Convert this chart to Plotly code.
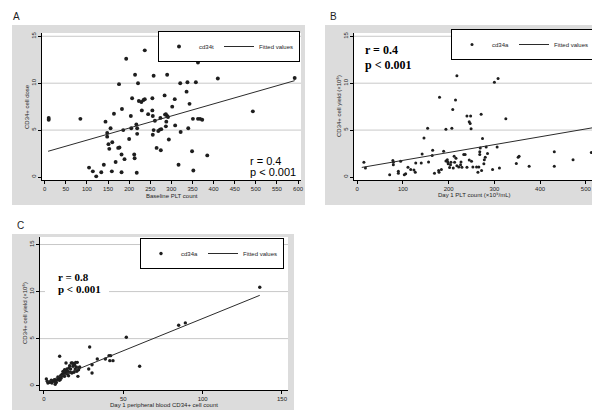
import plotly.graph_objects as go

W, H = 600, 410

# ---------------- data ----------------
# Panel A: Baseline PLT count vs CD34+ cell dose
a_plt = [9.5, 9.5, 84.5, 105, 114, 122, 134, 140, 144, 148, 148, 151, 153, 156, 160, 159, 164, 168,
         174, 177, 176, 182, 183, 186, 182, 189, 193, 200, 204, 205, 207, 212, 213, 214, 217, 219,
         219, 218, 221, 223, 229, 230, 234, 237, 237, 245, 255, 255, 256, 258, 256, 258, 261, 265,
         269, 273, 276, 274, 275, 284, 285, 287, 290, 288, 287, 290, 292, 294, 302, 308, 309, 317,
         321, 322, 336, 338, 340, 343, 349, 351, 352, 358, 363, 363, 368, 373, 385, 410, 493, 592]
a_cd34 = [6.3, 6.1, 6.2, 1.0, 0.6, 0.07, 0.5, 1.3, 5.9, 4.7, 4.3, 3.5, 3.0, 5.2, 3.7, 0.6, 6.75, 1.6,
          3.1, 3.15, 9.9, 2.4, 7.25, 5.0, 0.5, 1.9, 12.6, 4.05, 6.5, 5.2, 8.4, 2.4, 2.0, 10.9, 5.6, 5.2,
          4.6, 0.46, 10.0, 8.1, 8.0, 7.1, 8.2, 8.3, 13.5, 6.7, 8.4, 7.1, 6.5, 5.0, 4.5, 10.8, 6.0, 3.1,
          4.9, 5.05, 5.1, 6.3, 2.85, 8.7, 6.65, 6.7, 6.5, 5.9, 5.4, 10.9, 6.4, 4.0, 7.5, 8.3, 5.5, 1.3,
          10.0, 4.8, 9.1, 10.1, 5.2, 7.8, 2.75, 6.2, 0.7, 10.1, 12.2, 6.2, 6.2, 6.1, 2.3, 10.5, 7.0, 10.55]
a_fit_x = [8, 592]
a_fit_y = [2.74, 10.27]

# Panel B: Day 1 PLT count vs CD34+ cell yield
b_plt = [14.6, 18, 71, 78, 79, 79, 90, 90, 95, 103, 106, 111, 117, 124, 127, 128, 140, 142, 146, 154,
         156, 164, 165, 169, 178, 179, 180, 184, 189, 194, 194, 197, 198, 199, 202, 204, 205, 207, 209,
         210, 212, 213, 215, 216, 218, 218, 222, 226, 227, 229, 233, 236, 240, 240, 245, 245, 247, 247,
         248, 249, 250, 253, 261, 264, 266, 268, 268, 269, 271, 272, 274, 277, 278, 280, 282, 285, 296,
         300, 306, 308, 311, 325, 348, 352, 354, 376, 431, 431, 472, 512]
b_cd34 = [1.56, 0.96, 0.25, 1.75, 1.56, 1.3, 0.4, 0.6, 1.67, 0.25, 0.35, 1.03, 0.8, 0.75, 0.5, 1.5, 1.5,
          2.45, 4.15, 5.2, 1.6, 2.3, 2.85, 0.4, 0.7, 0.5, 8.5, 0.8, 2.75, 5.1, 1.7, 1.85, 1.6, 1.4, 1.0,
          1.3, 1.56, 5.2, 7.2, 0.96, 2.2, 1.56, 8.2, 2.0, 10.8, 1.2, 1.07, 1.3, 1.6, 1.03, 2.4, 2.4, 6.5,
          1.03, 5.9, 1.8, 13.5, 5.7, 6.5, 5.15, 1.67, 1.07, 1.07, 0.5, 1.07, 2.4, 2.7, 3.1, 6.7, 0.68,
          4.1, 1.4, 1.85, 2.1, 3.2, 2.5, 0.8, 10.1, 3.2, 10.5, 0.96, 6.2, 1.45, 2.1, 2.2, 1.14, 2.7,
          1.14, 1.85, 2.6]
b_fit_x = [10, 515]
b_fit_y = [1.02, 5.25]

# Panel C: Day 1 peripheral blood CD34+ count vs CD34+ cell yield
c_pb = [1.5, 2.1, 2.5, 3.6, 4.6, 5.0, 5.5, 6.3, 6.7, 7.1, 7.4, 7.8, 8.4, 8.8, 9.2, 9.7, 9.9, 10.2, 10.5,
        10.9, 11.3, 11.6, 12.0, 12.3, 12.6, 13.0, 13.0, 13.4, 13.9, 14.1, 14.5, 14.7, 15.1, 15.5, 15.8,
        16.2, 16.4, 16.8, 17.2, 17.6, 17.9, 18.3, 18.7, 18.9, 19.3, 19.7, 20.0, 20.4, 20.7, 21.0, 21.4,
        21.8, 22.0, 22.5, 28.2, 28.8, 30.3, 30.3, 33.6, 38.7, 41.0, 42.0, 41.5, 43.5, 51.9, 60.3, 84.9,
        89.1, 136.0]
c_cd34 = [0.71, 0.46, 0.28, 0.35, 0.57, 0.28, 0.53, 0.46, 0.64, 0.14, 0.39, 0.35, 0.64, 0.92, 0.82, 0.57,
          3.12, 0.64, 1.06, 0.82, 1.17, 1.24, 1.52, 1.06, 1.35, 1.70, 0.99, 1.35, 2.41, 1.52, 1.77, 1.24,
          1.52, 1.06, 1.88, 2.13, 1.42, 1.77, 2.41, 1.35, 2.41, 2.06, 2.34, 1.42, 2.23, 1.77, 2.48, 1.99,
          1.52, 2.48, 0.99, 1.70, 1.88, 1.99, 1.77, 4.11, 1.35, 2.23, 2.84, 2.84, 3.19, 3.19, 2.66, 2.66,
          5.14, 2.06, 6.42, 6.67, 10.46]
c_fit_x = [1.5, 136]
c_fit_y = [0.39, 9.6]

y_ticks = [0, 5, 10, 15]
grid_vals = [5, 10, 15]
a_xticks = [0, 50, 100, 150, 200, 250, 300, 350, 400, 450, 500, 550, 600]
b_xticks = [0, 100, 200, 300, 400, 500]
c_xticks = [0, 50, 100, 150]

# ---------------- layout helpers ----------------
def fx(p):
    return p / W

def fy(p):
    return 1 - p / H

SANS = "Liberation Sans"
SERIF = "Liberation Serif"
INK = "#1e1e1e"
GRAY_BG = "#dcdcdc"

panels = [
    dict(key="", plot=(34, 293, 25, 172), box=(4, 297, 17, 197), xr=[-6.4, 607], yr=[-0.32, 15.35],
         xt=a_xticks, xtitle="Baseline PLT count", ytitle="CD34+ cell dose",
         xtpos=(163.5, 188), ytpos=(18.5, 98.5),
         x=a_plt, y=a_cd34, fx=a_fit_x, fy=a_fit_y, name="cd34t", msize=3.9, legend="legend",
         leg=(292, 23)),
    dict(key="2", plot=(346, 587, 25, 172), box=(317, 597, 17, 197), xr=[-7, 520], yr=[-0.32, 15.35],
         xt=b_xticks, xtitle="Day 1 PLT count (×10⁹/mL)",
         ytitle="CD34+ cell yield (×10⁸)",
         xtpos=(466.5, 187), ytpos=(330.5, 98.5),
         x=b_plt, y=b_cd34, fx=b_fit_x, fy=b_fit_y, name="cd34a", msize=3.0, legend="legend2",
         leg=(587, 21)),
    dict(key="3", plot=(32, 280, 229, 382), box=(4, 286, 226, 405), xr=[-2.5, 153.8], yr=[-0.46, 15.8],
         xt=c_xticks, xtitle="Day 1 peripheral blood CD34+ cell count",
         ytitle="CD34+ cell yield (×10⁸)",
         xtpos=(156, 396.5), ytpos=(16.5, 305.5),
         x=c_pb, y=c_cd34, fx=c_fit_x, fy=c_fit_y, name="cd34a", msize=3.4, legend="legend3",
         leg=(276, 230)),
]

fig = go.Figure()
shapes = []
annotations = []
layout = dict(
    width=W, height=H, margin=dict(l=0, r=0, t=0, b=0),
    paper_bgcolor="white", plot_bgcolor="white",
    font=dict(family=SANS, size=6, color=INK),
)

for p in panels:
    k = p["key"]
    xa, ya = "x" + k, "y" + k
    l, r, t, b = p["plot"]
    fig.add_trace(go.Scatter(
        x=p["x"], y=p["y"], mode="markers", name=p["name"],
        marker=dict(size=p["msize"], color=INK, line=dict(width=0)),
        xaxis=xa, yaxis=ya, legend=p["legend"], hoverinfo="skip"))
    fig.add_trace(go.Scatter(
        x=p["fx"], y=p["fy"], mode="lines", name="Fitted values",
        line=dict(color="#2b2b2b", width=1),
        xaxis=xa, yaxis=ya, legend=p["legend"], hoverinfo="skip"))

    axis_common = dict(showline=True, linecolor="black", linewidth=1, ticks="outside",
                       ticklen=3, tickwidth=1, tickcolor="black", showgrid=False,
                       zeroline=False, automargin=False,
                       tickfont=dict(family=SANS, size=6, color=INK))
    layout["xaxis" + k] = dict(axis_common, domain=[fx(l), fx(r)], anchor=ya, range=p["xr"],
                               tickvals=p["xt"])
    layout["yaxis" + k] = dict(axis_common, domain=[fy(b), fy(t)], anchor=xa, range=p["yr"],
                               tickvals=y_ticks, tickangle=-90)

    # axis titles
    tx, ty = p["xtpos"]
    annotations.append(dict(text=p["xtitle"], x=fx(tx), y=fy(ty), xref="paper", yref="paper",
                            xanchor="center", yanchor="middle", showarrow=False,
                            font=dict(family=SANS, size=6, color=INK)))
    tx, ty = p["ytpos"]
    annotations.append(dict(text=p["ytitle"], x=fx(tx), y=fy(ty), xref="paper", yref="paper",
                            xanchor="center", yanchor="middle", showarrow=False, textangle=-90,
                            font=dict(family=SANS, size=6, color=INK)))

    bl, br, bt, bb = p["box"]
    shapes.append(dict(type="rect", xref="paper", yref="paper", x0=fx(bl), x1=fx(br),
                       y0=fy(bb), y1=fy(bt), fillcolor=GRAY_BG, line=dict(width=0), layer="below"))
    shapes.append(dict(type="rect", xref=xa + " domain", yref=ya + " domain", x0=0, x1=1,
                       y0=0, y1=1, fillcolor="white", line=dict(width=0), layer="below"))
    for g in grid_vals:
        shapes.append(dict(type="line", xref=xa + " domain", yref=ya, x0=0, x1=1, y0=g, y1=g,
                           line=dict(color="#c8c8c8", width=1), layer="below"))

    lx, ly = p["leg"]
    layout[p["legend"]] = dict(x=fx(lx), y=fy(ly), xanchor="right", yanchor="top",
                               orientation="h", bgcolor="white", bordercolor="black",
                               borderwidth=1, itemwidth=30, tracegroupgap=0,
                               font=dict(family=SANS, size=6, color=INK))

# white box behind panel C statistics
shapes.append(dict(type="rect", xref="paper", yref="paper", x0=fx(37), x1=fx(101),
                   y0=fy(289), y1=fy(261), fillcolor="white", line=dict(width=0), layer="above"))

for txt, x, y in [("A", 3, 8), ("B", 320, 8), ("C", 7, 217)]:
    annotations.append(dict(text=txt, x=fx(x), y=fy(y), xref="paper", yref="paper",
                            xanchor="left", yanchor="middle", showarrow=False,
                            font=dict(family=SANS, size=10, color=INK)))

stats = [
    ("r = 0.4", 240, 152.5, SANS, 11, False),
    ("p &lt; 0.001", 240, 163.5, SANS, 11, False),
    ("r = 0.4", 355, 42.5, SERIF, 12, True),
    ("p &lt; 0.001", 355, 56.5, SERIF, 12, True),
    ("r = 0.8", 48, 269, SERIF, 11, True),
    ("p &lt; 0.001", 48, 281, SERIF, 11, True),
]
for txt, x, y, fam, sz, bold in stats:
    annotations.append(dict(text=("<b>%s</b>" % txt) if bold else txt, x=fx(x), y=fy(y),
                            xref="paper", yref="paper", xanchor="left", yanchor="middle",
                            showarrow=False, font=dict(family=fam, size=sz, color="black")))

layout["shapes"] = shapes
layout["annotations"] = annotations
fig.update_layout(**layout)
fig.write_html("out.html")
